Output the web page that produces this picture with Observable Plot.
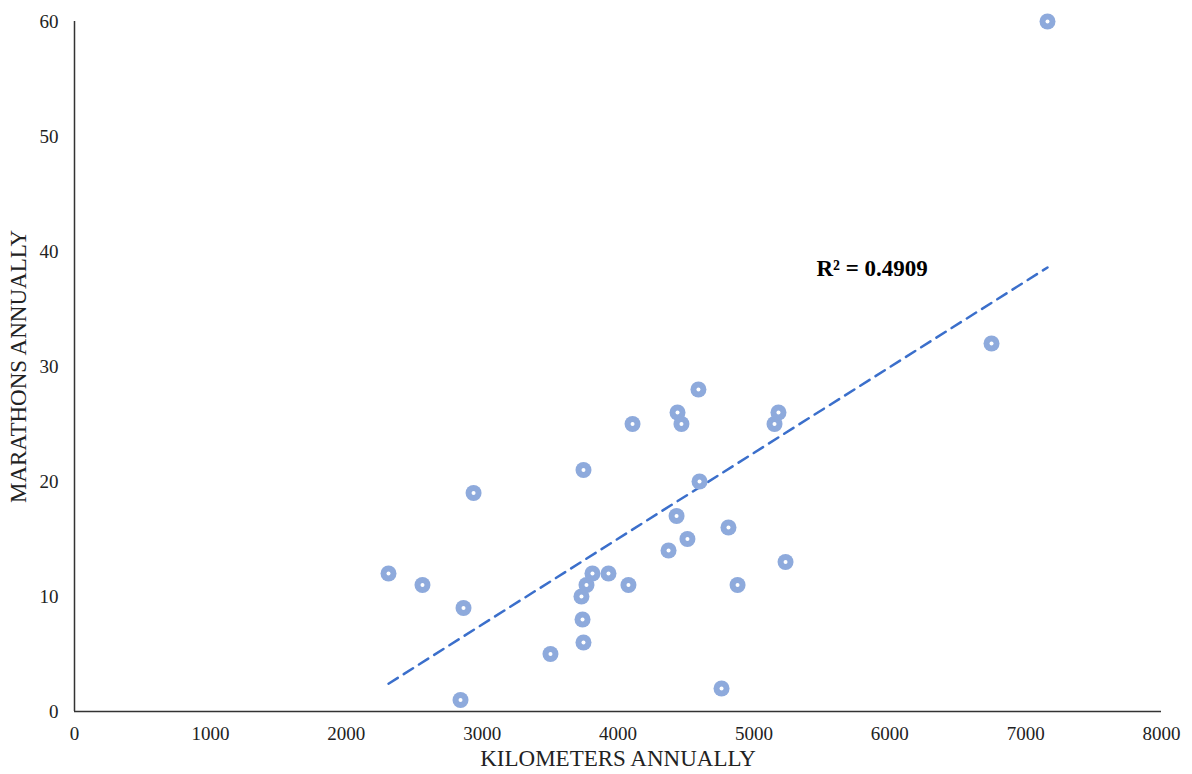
<!DOCTYPE html>
<html>
<head>
<meta charset="utf-8">
<script src="https://cdn.jsdelivr.net/npm/d3@7"></script>
<script src="https://cdn.jsdelivr.net/npm/@observablehq/plot@0.6"></script>
<style>
  html, body { margin: 0; padding: 0; background: #fff; }
  #chart svg { display: block; }
</style>
</head>
<body>
<div id="chart"></div>
<script>
const kilometers = [2311, 2561, 2863, 2841, 2937, 3503, 3746, 3731, 3739, 3746, 3768, 3812, 3930, 4077, 4107, 4372, 4431, 4438, 4467, 4511, 4592, 4600, 4762, 4813, 4880, 5152, 5181, 5233, 6749, 7161];
const marathons  = [12, 11, 9, 1, 19, 5, 21, 10, 8, 6, 11, 12, 12, 11, 25, 14, 17, 26, 25, 15, 28, 20, 2, 16, 11, 25, 26, 13, 32, 60];
const xTicks = [0, 1000, 2000, 3000, 4000, 5000, 6000, 7000, 8000];
const yTicks = [0, 10, 20, 30, 40, 50, 60];
const r2Label = "R² = 0.4909";
const r2Pos = {x: 5460, y: 38.5};

const data = kilometers.map((k, i) => ({km: k, mar: marathons[i]}));

const chart = Plot.plot({
  width: 1192,
  height: 774,
  marginLeft: 74,
  marginRight: 31,
  marginTop: 21,
  marginBottom: 63,
  style: {fontFamily: "'Liberation Serif', 'Times New Roman', serif", fontSize: "19px", color: "#222", background: "#fff"},
  x: {domain: [0, 8000], label: null},
  y: {domain: [0, 60], label: null},
  marks: [
    Plot.axisX({ticks: xTicks, tickSize: 0, tickPadding: 15, tickFormat: d => String(d), fontSize: 19, label: null}),
    Plot.axisY({ticks: yTicks, tickSize: 0, tickPadding: 16, tickFormat: d => String(d), fontSize: 19, label: null}),
    Plot.ruleY([0], {stroke: "#333", strokeWidth: 1.5}),
    Plot.ruleX([0], {stroke: "#333", strokeWidth: 1.5}),
    Plot.linearRegressionY(data, {x: "km", y: "mar", ci: 0, stroke: "#3b6fcb", strokeWidth: 2.5, strokeDasharray: "11,7"}),
    Plot.dot(data, {x: "km", y: "mar", r: 8, fill: "#8eaadc", stroke: "none"}),
    Plot.dot(data, {x: "km", y: "mar", r: 2, fill: "#fff", stroke: "none"}),
    Plot.text([r2Pos], {x: "x", y: "y", text: () => r2Label, textAnchor: "start", fontSize: 23, fontWeight: "bold", fill: "#000"}),
    Plot.text(["KILOMETERS ANNUALLY"], {frameAnchor: "bottom", dy: 54, text: d => d, fontSize: 23, fill: "#222"}),
    Plot.text(["MARATHONS ANNUALLY"], {frameAnchor: "left", dx: -56, rotate: -90, textAnchor: "middle", text: d => d, fontSize: 23, fill: "#222"})
  ]
});
document.getElementById("chart").appendChild(chart);
</script>
</body>
</html>
